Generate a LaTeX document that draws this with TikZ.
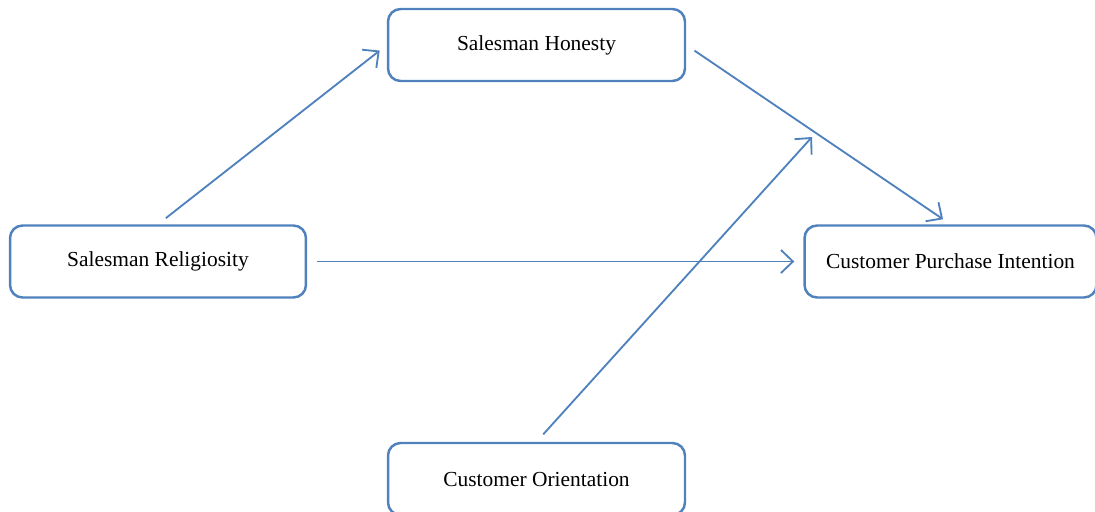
\documentclass[tikz,border=0pt]{standalone}
\usepackage{fontspec}
\setmainfont{Liberation Serif}
\usetikzlibrary{arrows.meta}
\definecolor{boxblue}{RGB}{79,129,189}
\tikzset{
  varbox/.style={draw=boxblue, line width=1.4pt, rounded corners=0.25cm, fill=white,
    minimum height=1.44cm, inner sep=0pt, font=\fontsize{12.2}{14}\selectfont},
  link/.style={draw=boxblue, line width=1.05pt, -{Straight Barb[length=2.4mm,width=4.6mm]},
    shorten <=0.2cm, shorten >=0.18cm}
}
\begin{document}
\begin{tikzpicture}[x=0.02cm,y=-0.02cm]
				\useasboundingbox (0,0) rectangle (1095,511);
				\node[varbox, minimum width=5.94cm] (hon) at (536.5,45) {Salesman Honesty};
				\node[varbox, minimum width=5.92cm] (rel) at (158,261.5) {Salesman Religiosity};
				\node[varbox, minimum width=5.84cm] (cpi) at (950.5,261.5) {Customer Purchase Intention};
				\node[varbox, minimum width=5.94cm] (ori) at (536.5,479) {Customer Orientation};
				\coordinate (mod) at (812,137);
				\draw[link] (rel.north) -- (hon.west);
				\draw[link] (hon.east) -- (cpi.north);
				\draw[link] (rel.east) -- (cpi.west);
				\draw[link, shorten >=0pt] (ori.north) -- (mod);
	\end{tikzpicture}
\end{document}
